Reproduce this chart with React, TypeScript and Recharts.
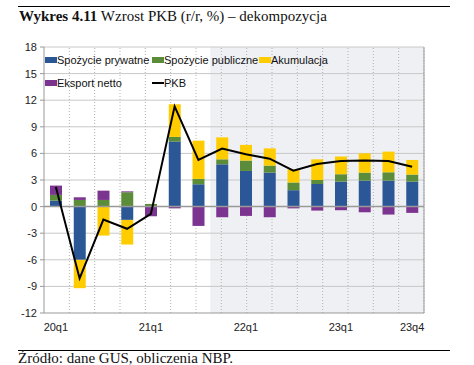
import {
  ComposedChart,
  Bar,
  Line,
  XAxis,
  YAxis,
  ReferenceArea,
  ReferenceLine,
} from "recharts";

const quarters = [
  "20q1", "20q2", "20q3", "20q4",
  "21q1", "21q2", "21q3", "21q4",
  "22q1", "22q2", "22q3", "22q4",
  "23q1", "23q2", "23q3", "23q4",
];

const privateCons = [0.67, -6.0, 0, -1.5, 0, 7.33, 2.52, 4.77, 4.02, 3.83, 1.85, 2.55, 2.82, 2.93, 2.93, 2.82];
const publicCons = [0.65, 0.75, 0.75, 1.62, 0.3, 0.53, 0.6, 0.56, 1.17, 0.79, 0.87, 0.45, 0.83, 0.9, 0.94, 0.79];
const accumulation = [0, -3.2, -3.27, -2.78, 0, 3.68, 4.32, 2.48, 1.77, 1.95, 1.48, 2.33, 2.0, 2.18, 2.33, 1.65];
const netExports = [1.05, 0.3, 1.05, 0.1, -1.09, -0.2, -2.18, -1.2, -1.05, -1.2, -0.2, -0.45, -0.41, -0.64, -0.9, -0.71];
const gdp = [2.2, -8.1, -1.46, -2.5, -0.83, 11.3, 5.26, 6.55, 5.9, 5.4, 4.05, 4.8, 5.15, 5.2, 5.15, 4.5];

const yTicks = [-12, -9, -6, -3, 0, 3, 6, 9, 12, 15, 18];
const xTicks = ["20q1", "21q1", "22q1", "23q1", "23q4"];

const data = quarters.map((q, i) => ({
  q,
  prywatne: privateCons[i],
  publiczne: publicCons[i],
  akumulacja: accumulation[i],
  eksport: netExports[i],
  pkb: gdp[i],
}));

const BLUE = "#2b5797";
const GREEN = "#5b8c3a";
const YELLOW = "#ffcc00";
const PURPLE = "#7c3491";

const tickStyle = { fontFamily: "Liberation Sans, Arial, sans-serif", fontSize: 11, fill: "#222" };

const legendRow = (items: { label: string; color: string; line?: boolean; w: number }[]) => (
  <div style={{ display: "flex", alignItems: "center" }}>
    {items.map((it) => (
      <div key={it.label} style={{ display: "flex", alignItems: "center", width: it.w }}>
        {it.line ? (
          <span style={{ width: 12, height: 2, background: "#000", display: "inline-block" }} />
        ) : (
          <span style={{ width: 12, height: 6, background: it.color, display: "inline-block" }} />
        )}
        <span>{it.label}</span>
      </div>
    ))}
  </div>
);

export default function App() {
  const serif = "Liberation Serif, Times New Roman, serif";
  return (
    <div style={{ position: "absolute", left: 0, top: 0, width: 474, height: 365, background: "#fff", overflow: "hidden" }}>
      <div style={{ position: "absolute", left: 18, top: 6, width: 432, borderTop: "1px solid #000" }} />
      <div style={{ position: "absolute", left: 19, top: 8, fontFamily: serif, fontSize: 15, color: "#111", whiteSpace: "nowrap" }}>
        <b>Wykres 4.11</b> Wzrost PKB (r/r, %) – dekompozycja
      </div>

      <div style={{ position: "absolute", left: 0, top: 0 }}>
        <ComposedChart
          width={474}
          height={365}
          data={data}
          stackOffset="sign"
          margin={{ top: 47, right: 20, bottom: 32, left: 14 }}
        >
          <ReferenceArea
            x1="21q4"
            x2="23q4"
            y1={-12}
            y2={18}
            fill="#eef0f3"
            fillOpacity={1}
            stroke="none"
            {...({ zIndex: 50 } as any)}
          />
          <XAxis
            dataKey="q"
            ticks={xTicks}
            interval={0}
            tickLine={false}
            axisLine={{ stroke: "#999" }}
            tick={tickStyle}
            tickMargin={4}
            height={20}
          />
          <XAxis xAxisId="grid" type="number" domain={[0, quarters.length]} hide />
          <YAxis
            domain={[-12, 18]}
            ticks={yTicks}
            interval={0}
            width={30}
            tick={tickStyle}
            tickSize={4}
            tickMargin={3}
            axisLine={{ stroke: "#999" }}
            tickLine={{ stroke: "#999" }}
          />
          <YAxis
            yAxisId="r"
            orientation="right"
            domain={[-12, 18]}
            ticks={yTicks}
            interval={0}
            width={30}
            tick={tickStyle}
            tickSize={4}
            tickMargin={4}
            axisLine={{ stroke: "#999" }}
            tickLine={{ stroke: "#999" }}
          />
          {yTicks.filter((t) => t !== 0 && t !== -12).map((t) => (
            <ReferenceLine
              key={"h" + t}
              xAxisId="grid"
              y={t}
              stroke="#c8c8c8"
              strokeWidth={1}
              {...({ zIndex: 250 } as any)}
            />
          ))}
          {quarters.slice(1).map((q, i) => (
            <ReferenceLine
              key={q}
              xAxisId="grid"
              x={i + 1}
              stroke="#b4b4b4"
              strokeDasharray="1 2"
              {...({ zIndex: 250 } as any)}
            />
          ))}
          <Bar dataKey="prywatne" stackId="s" barSize={12} fill={BLUE} isAnimationActive={false} />
          <Bar dataKey="publiczne" stackId="s" barSize={12} fill={GREEN} isAnimationActive={false} />
          <Bar dataKey="akumulacja" stackId="s" barSize={12} fill={YELLOW} isAnimationActive={false} />
          <Bar dataKey="eksport" stackId="s" barSize={12} fill={PURPLE} isAnimationActive={false} />
          <ReferenceLine xAxisId="grid" y={0} stroke="#999" strokeWidth={1.5} />
          <Line dataKey="pkb" type="linear" stroke="#000" strokeWidth={2} dot={false} isAnimationActive={false} />
        </ComposedChart>
      </div>

      <div style={{ position: "absolute", left: 45, top: 53, fontFamily: "Liberation Sans, Arial, sans-serif", fontSize: 11, color: "#111", lineHeight: "14px" }}>
        {legendRow([
          { label: "Spożycie prywatne", color: BLUE, w: 107 },
          { label: "Spożycie publiczne", color: GREEN, w: 107 },
          { label: "Akumulacja", color: YELLOW, w: 80 },
        ])}
        <div style={{ height: 9 }} />
        {legendRow([
          { label: "Eksport netto", color: PURPLE, w: 107 },
          { label: "PKB", color: "#000", line: true, w: 60 },
        ])}
      </div>

      <div style={{ position: "absolute", left: 18, top: 350, width: 432, borderTop: "1px solid #000" }} />
      <div style={{ position: "absolute", left: 18, top: 350, fontFamily: serif, fontSize: 15, color: "#111", whiteSpace: "nowrap" }}>
        Źródło: dane GUS, obliczenia NBP.
      </div>
    </div>
  );
}
